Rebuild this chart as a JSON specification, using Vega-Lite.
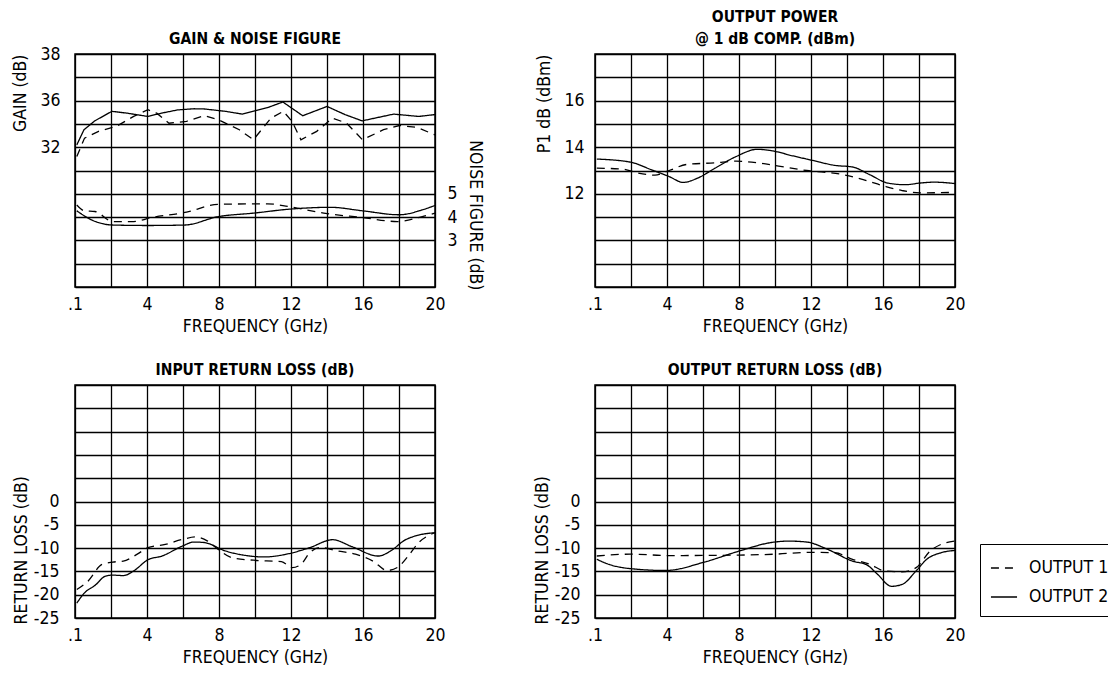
{
  "$schema": "https://vega.github.io/schema/vega-lite/v6.json",
  "background": "white",
  "padding": {"left": 11, "top": 8, "right": 0, "bottom": 5},
  "config": {
    "font": "DejaVu Sans Condensed, DejaVu Sans, sans-serif",
    "view": {"stroke": "black", "strokeWidth": 1.5},
    "axis": {"domain": false, "ticks": false, "tickSize": 0, "grid": true, "gridColor": "black", "gridWidth": 1.3, "gridOpacity": 1,
      "labelFont": "DejaVu Sans Condensed, DejaVu Sans, sans-serif", "labelFontSize": 17.5, "labelColor": "black",
      "titleFont": "DejaVu Sans Condensed, DejaVu Sans, sans-serif", "titleFontSize": 17.5, "titleFontWeight": "normal", "titleColor": "black",
      "labelOverlap": false, "labelFlush": false},
    "title": {"font": "DejaVu Sans Condensed, DejaVu Sans, sans-serif", "fontSize": 15.5, "fontWeight": "bold", "color": "black", "anchor": "middle", "frame": "group", "offset": -2, "lineHeight": 22},
    "line": {"color": "black", "strokeWidth": 1.3}
  },
  "datasets": {
    "gain": [
      {"f": 0.1, "out": "OUTPUT 2", "gain": 34.1}, {"f": 0.5, "out": "OUTPUT 2", "gain": 34.75}, {"f": 1.1, "out": "OUTPUT 2", "gain": 35.13},
      {"f": 2.05, "out": "OUTPUT 2", "gain": 35.54}, {"f": 2.9, "out": "OUTPUT 2", "gain": 35.46}, {"f": 4.05, "out": "OUTPUT 2", "gain": 35.32},
      {"f": 4.8, "out": "OUTPUT 2", "gain": 35.46}, {"f": 5.7, "out": "OUTPUT 2", "gain": 35.6}, {"f": 6.6, "out": "OUTPUT 2", "gain": 35.65},
      {"f": 7.2, "out": "OUTPUT 2", "gain": 35.64}, {"f": 8.35, "out": "OUTPUT 2", "gain": 35.54}, {"f": 9.3, "out": "OUTPUT 2", "gain": 35.42},
      {"f": 10.7, "out": "OUTPUT 2", "gain": 35.7}, {"f": 11.55, "out": "OUTPUT 2", "gain": 35.94}, {"f": 12.65, "out": "OUTPUT 2", "gain": 35.35},
      {"f": 14.0, "out": "OUTPUT 2", "gain": 35.75}, {"f": 15.0, "out": "OUTPUT 2", "gain": 35.4}, {"f": 15.95, "out": "OUTPUT 2", "gain": 35.13},
      {"f": 17.7, "out": "OUTPUT 2", "gain": 35.42}, {"f": 19.1, "out": "OUTPUT 2", "gain": 35.32}, {"f": 20, "out": "OUTPUT 2", "gain": 35.4},
      {"f": 0.1, "out": "OUTPUT 1", "gain": 33.6}, {"f": 0.53, "out": "OUTPUT 1", "gain": 34.39}, {"f": 1.31, "out": "OUTPUT 1", "gain": 34.68},
      {"f": 2.29, "out": "OUTPUT 1", "gain": 34.89}, {"f": 3.26, "out": "OUTPUT 1", "gain": 35.32}, {"f": 4.05, "out": "OUTPUT 1", "gain": 35.61},
      {"f": 4.54, "out": "OUTPUT 1", "gain": 35.46}, {"f": 5.22, "out": "OUTPUT 1", "gain": 35.03}, {"f": 6.2, "out": "OUTPUT 1", "gain": 35.11},
      {"f": 7.18, "out": "OUTPUT 1", "gain": 35.35}, {"f": 7.96, "out": "OUTPUT 1", "gain": 35.18}, {"f": 9.13, "out": "OUTPUT 1", "gain": 34.75},
      {"f": 9.91, "out": "OUTPUT 1", "gain": 34.32}, {"f": 10.89, "out": "OUTPUT 1", "gain": 35.25}, {"f": 11.57, "out": "OUTPUT 1", "gain": 35.54},
      {"f": 12.06, "out": "OUTPUT 1", "gain": 35.11}, {"f": 12.55, "out": "OUTPUT 1", "gain": 34.32}, {"f": 13.43, "out": "OUTPUT 1", "gain": 34.68},
      {"f": 14.31, "out": "OUTPUT 1", "gain": 35.25}, {"f": 15.09, "out": "OUTPUT 1", "gain": 35.03}, {"f": 15.97, "out": "OUTPUT 1", "gain": 34.32},
      {"f": 17.14, "out": "OUTPUT 1", "gain": 34.75}, {"f": 18.02, "out": "OUTPUT 1", "gain": 34.93}, {"f": 19.0, "out": "OUTPUT 1", "gain": 34.85},
      {"f": 20, "out": "OUTPUT 1", "gain": 34.53}
    ],
    "nf": [
      {"f": 0.1, "out": "OUTPUT 2", "nf": 4.27}, {"f": 0.92, "out": "OUTPUT 2", "nf": 3.88}, {"f": 2.09, "out": "OUTPUT 2", "nf": 3.66},
      {"f": 4.05, "out": "OUTPUT 2", "nf": 3.64}, {"f": 6.1, "out": "OUTPUT 2", "nf": 3.66}, {"f": 7.96, "out": "OUTPUT 2", "nf": 4.02},
      {"f": 9.91, "out": "OUTPUT 2", "nf": 4.17}, {"f": 12.06, "out": "OUTPUT 2", "nf": 4.35}, {"f": 14.21, "out": "OUTPUT 2", "nf": 4.42},
      {"f": 15.97, "out": "OUTPUT 2", "nf": 4.27}, {"f": 18.02, "out": "OUTPUT 2", "nf": 4.1}, {"f": 19.29, "out": "OUTPUT 2", "nf": 4.31},
      {"f": 20, "out": "OUTPUT 2", "nf": 4.5},
      {"f": 0.1, "out": "OUTPUT 1", "nf": 4.52}, {"f": 0.53, "out": "OUTPUT 1", "nf": 4.27}, {"f": 1.11, "out": "OUTPUT 1", "nf": 4.24},
      {"f": 2.09, "out": "OUTPUT 1", "nf": 3.81}, {"f": 3.26, "out": "OUTPUT 1", "nf": 3.81}, {"f": 4.24, "out": "OUTPUT 1", "nf": 3.98},
      {"f": 6.2, "out": "OUTPUT 1", "nf": 4.21}, {"f": 7.96, "out": "OUTPUT 1", "nf": 4.55}, {"f": 10.7, "out": "OUTPUT 1", "nf": 4.57},
      {"f": 11.87, "out": "OUTPUT 1", "nf": 4.45}, {"f": 13.82, "out": "OUTPUT 1", "nf": 4.17}, {"f": 15.97, "out": "OUTPUT 1", "nf": 3.98},
      {"f": 17.92, "out": "OUTPUT 1", "nf": 3.81}, {"f": 19.29, "out": "OUTPUT 1", "nf": 4.02}, {"f": 20, "out": "OUTPUT 1", "nf": 4.17}
    ],
    "p1db": [
      {"f": 0.1, "out": "OUTPUT 2", "p": 13.49}, {"f": 1.96, "out": "OUTPUT 2", "p": 13.36}, {"f": 3.14, "out": "OUTPUT 2", "p": 13.03},
      {"f": 4.12, "out": "OUTPUT 2", "p": 12.74}, {"f": 4.9, "out": "OUTPUT 2", "p": 12.49}, {"f": 5.69, "out": "OUTPUT 2", "p": 12.67},
      {"f": 6.67, "out": "OUTPUT 2", "p": 13.1}, {"f": 7.84, "out": "OUTPUT 2", "p": 13.6}, {"f": 9.02, "out": "OUTPUT 2", "p": 13.91},
      {"f": 9.8, "out": "OUTPUT 2", "p": 13.85}, {"f": 10.98, "out": "OUTPUT 2", "p": 13.63}, {"f": 12.16, "out": "OUTPUT 2", "p": 13.42},
      {"f": 13.33, "out": "OUTPUT 2", "p": 13.22}, {"f": 14.31, "out": "OUTPUT 2", "p": 13.15}, {"f": 15.29, "out": "OUTPUT 2", "p": 12.81},
      {"f": 16.27, "out": "OUTPUT 2", "p": 12.46}, {"f": 17.25, "out": "OUTPUT 2", "p": 12.39}, {"f": 18.04, "out": "OUTPUT 2", "p": 12.46},
      {"f": 18.82, "out": "OUTPUT 2", "p": 12.5}, {"f": 20, "out": "OUTPUT 2", "p": 12.44},
      {"f": 0.1, "out": "OUTPUT 1", "p": 13.1}, {"f": 1.57, "out": "OUTPUT 1", "p": 13.06}, {"f": 2.35, "out": "OUTPUT 1", "p": 12.9},
      {"f": 3.33, "out": "OUTPUT 1", "p": 12.8}, {"f": 4.12, "out": "OUTPUT 1", "p": 13.0}, {"f": 5.1, "out": "OUTPUT 1", "p": 13.26},
      {"f": 6.67, "out": "OUTPUT 1", "p": 13.33}, {"f": 7.84, "out": "OUTPUT 1", "p": 13.4}, {"f": 9.02, "out": "OUTPUT 1", "p": 13.33},
      {"f": 10.2, "out": "OUTPUT 1", "p": 13.19}, {"f": 11.76, "out": "OUTPUT 1", "p": 13.0}, {"f": 13.73, "out": "OUTPUT 1", "p": 12.83},
      {"f": 14.9, "out": "OUTPUT 1", "p": 12.61}, {"f": 16.08, "out": "OUTPUT 1", "p": 12.33}, {"f": 17.06, "out": "OUTPUT 1", "p": 12.14},
      {"f": 18.04, "out": "OUTPUT 1", "p": 12.04}, {"f": 20, "out": "OUTPUT 1", "p": 12.06}
    ],
    "irl": [
      {"f": 0.1, "out": "OUTPUT 2", "rl": -21.8}, {"f": 0.53, "out": "OUTPUT 2", "rl": -19.6}, {"f": 1.11, "out": "OUTPUT 2", "rl": -18.0},
      {"f": 1.7, "out": "OUTPUT 2", "rl": -16.0}, {"f": 2.09, "out": "OUTPUT 2", "rl": -15.8}, {"f": 2.68, "out": "OUTPUT 2", "rl": -15.9},
      {"f": 3.26, "out": "OUTPUT 2", "rl": -14.9}, {"f": 4.05, "out": "OUTPUT 2", "rl": -12.5}, {"f": 4.83, "out": "OUTPUT 2", "rl": -11.7},
      {"f": 6.0, "out": "OUTPUT 2", "rl": -9.5}, {"f": 6.59, "out": "OUTPUT 2", "rl": -8.7}, {"f": 7.17, "out": "OUTPUT 2", "rl": -8.8},
      {"f": 8.35, "out": "OUTPUT 2", "rl": -10.6}, {"f": 9.52, "out": "OUTPUT 2", "rl": -11.6}, {"f": 10.5, "out": "OUTPUT 2", "rl": -11.9},
      {"f": 11.87, "out": "OUTPUT 2", "rl": -11.2}, {"f": 13.04, "out": "OUTPUT 2", "rl": -9.9}, {"f": 14.31, "out": "OUTPUT 2", "rl": -8.2},
      {"f": 15.39, "out": "OUTPUT 2", "rl": -9.7}, {"f": 16.85, "out": "OUTPUT 2", "rl": -11.7}, {"f": 17.54, "out": "OUTPUT 2", "rl": -10.6},
      {"f": 18.32, "out": "OUTPUT 2", "rl": -8.3}, {"f": 19.1, "out": "OUTPUT 2", "rl": -7.2}, {"f": 20, "out": "OUTPUT 2", "rl": -6.7},
      {"f": 0.1, "out": "OUTPUT 1", "rl": -18.9}, {"f": 0.72, "out": "OUTPUT 1", "rl": -17.1}, {"f": 1.5, "out": "OUTPUT 1", "rl": -13.5},
      {"f": 2.09, "out": "OUTPUT 1", "rl": -13.0}, {"f": 2.68, "out": "OUTPUT 1", "rl": -12.8}, {"f": 3.46, "out": "OUTPUT 1", "rl": -11.3},
      {"f": 4.05, "out": "OUTPUT 1", "rl": -9.9}, {"f": 5.02, "out": "OUTPUT 1", "rl": -9.2}, {"f": 6.0, "out": "OUTPUT 1", "rl": -8.1},
      {"f": 6.69, "out": "OUTPUT 1", "rl": -7.6}, {"f": 7.37, "out": "OUTPUT 1", "rl": -8.5}, {"f": 7.96, "out": "OUTPUT 1", "rl": -10.3},
      {"f": 8.74, "out": "OUTPUT 1", "rl": -12.1}, {"f": 9.91, "out": "OUTPUT 1", "rl": -12.6}, {"f": 11.47, "out": "OUTPUT 1", "rl": -12.9},
      {"f": 12.06, "out": "OUTPUT 1", "rl": -14.2}, {"f": 12.55, "out": "OUTPUT 1", "rl": -13.5}, {"f": 13.04, "out": "OUTPUT 1", "rl": -11.0},
      {"f": 13.63, "out": "OUTPUT 1", "rl": -9.9}, {"f": 14.6, "out": "OUTPUT 1", "rl": -10.6}, {"f": 15.58, "out": "OUTPUT 1", "rl": -11.3},
      {"f": 16.56, "out": "OUTPUT 1", "rl": -12.8}, {"f": 17.34, "out": "OUTPUT 1", "rl": -14.8}, {"f": 17.93, "out": "OUTPUT 1", "rl": -14.1},
      {"f": 18.51, "out": "OUTPUT 1", "rl": -11.7}, {"f": 19.1, "out": "OUTPUT 1", "rl": -8.8}, {"f": 20, "out": "OUTPUT 1", "rl": -6.7}
    ],
    "orl": [
      {"f": 0.1, "out": "OUTPUT 2", "rl": -12.4}, {"f": 0.78, "out": "OUTPUT 2", "rl": -13.5}, {"f": 1.96, "out": "OUTPUT 2", "rl": -14.4},
      {"f": 3.92, "out": "OUTPUT 2", "rl": -14.8}, {"f": 6.08, "out": "OUTPUT 2", "rl": -13.0}, {"f": 8.04, "out": "OUTPUT 2", "rl": -10.6},
      {"f": 9.8, "out": "OUTPUT 2", "rl": -8.8}, {"f": 10.78, "out": "OUTPUT 2", "rl": -8.5}, {"f": 11.76, "out": "OUTPUT 2", "rl": -8.7},
      {"f": 12.94, "out": "OUTPUT 2", "rl": -10.3}, {"f": 14.31, "out": "OUTPUT 2", "rl": -12.8}, {"f": 15.1, "out": "OUTPUT 2", "rl": -13.6},
      {"f": 15.69, "out": "OUTPUT 2", "rl": -15.6}, {"f": 16.47, "out": "OUTPUT 2", "rl": -18.2}, {"f": 17.06, "out": "OUTPUT 2", "rl": -17.8},
      {"f": 17.84, "out": "OUTPUT 2", "rl": -14.9}, {"f": 18.43, "out": "OUTPUT 2", "rl": -12.4}, {"f": 19.22, "out": "OUTPUT 2", "rl": -11.0},
      {"f": 20, "out": "OUTPUT 2", "rl": -10.5},
      {"f": 0.1, "out": "OUTPUT 1", "rl": -11.7}, {"f": 1.96, "out": "OUTPUT 1", "rl": -11.3}, {"f": 4.12, "out": "OUTPUT 1", "rl": -11.6},
      {"f": 8.04, "out": "OUTPUT 1", "rl": -11.5}, {"f": 10.0, "out": "OUTPUT 1", "rl": -11.3}, {"f": 11.96, "out": "OUTPUT 1", "rl": -10.9},
      {"f": 13.33, "out": "OUTPUT 1", "rl": -11.0}, {"f": 14.31, "out": "OUTPUT 1", "rl": -12.4}, {"f": 15.29, "out": "OUTPUT 1", "rl": -13.5},
      {"f": 16.08, "out": "OUTPUT 1", "rl": -14.9}, {"f": 17.06, "out": "OUTPUT 1", "rl": -15.1}, {"f": 17.84, "out": "OUTPUT 1", "rl": -14.2},
      {"f": 18.63, "out": "OUTPUT 1", "rl": -10.6}, {"f": 19.22, "out": "OUTPUT 1", "rl": -9.2}, {"f": 20, "out": "OUTPUT 1", "rl": -8.5}
    ]
  },
  "columns": 2,
  "bounds": "flush",
  "spacing": {"row": 98, "column": 160},
  "resolve": {"scale": {"strokeDash": "independent"}, "legend": {"strokeDash": "independent"}},
  "concat": [
    {
      "title": {"text": "GAIN & NOISE FIGURE"},
      "width": 360, "height": 233,
      "layer": [
        {
          "data": {"name": "gain"},
          "mark": {"type": "line", "interpolate": "linear"},
          "encoding": {
            "x": {"field": "f", "type": "quantitative", "scale": {"domain": [0, 20], "nice": false, "zero": false},
              "axis": {"title": "FREQUENCY (GHz)", "values": [0, 2, 4, 6, 8, 10, 12, 14, 16, 18, 20], "labelExpr": "datum.value == 0 ? '.1' : (datum.value % 4 == 0 ? datum.label : '')", "labelPadding": 8, "titlePadding": 5}},
            "y": {"field": "gain", "type": "quantitative", "scale": {"domain": [28, 38], "nice": false, "zero": false},
              "axis": {"orient": "left", "title": "GAIN (dB)", "values": [28, 29, 30, 31, 32, 33, 34, 35, 36, 37, 38], "labelExpr": "datum.value == 38 ? '38' : datum.value == 36 ? '36' : datum.value == 34 ? '32' : ''", "titleAnchor": "end", "labelPadding": 15, "titlePadding": 10}},
            "strokeDash": {"field": "out", "type": "nominal", "scale": {"domain": ["OUTPUT 1", "OUTPUT 2"], "range": [[8, 6], [1, 0]]}, "legend": null}
          }
        },
        {
          "data": {"name": "nf"},
          "mark": {"type": "line", "interpolate": "monotone"},
          "encoding": {
            "x": {"field": "f", "type": "quantitative", "scale": {"domain": [0, 20], "nice": false, "zero": false},
              "axis": {"title": "FREQUENCY (GHz)", "values": [0, 2, 4, 6, 8, 10, 12, 14, 16, 18, 20], "labelExpr": "datum.value == 0 ? '.1' : (datum.value % 4 == 0 ? datum.label : '')", "labelPadding": 8, "titlePadding": 5}},
            "y": {"field": "nf", "type": "quantitative", "scale": {"domain": [1, 11], "nice": false, "zero": false},
              "axis": {"orient": "right", "title": "NOISE FIGURE (dB)", "values": [3, 4, 5], "grid": false, "titleY": 236, "titleAlign": "right", "titleAngle": 90, "labelPadding": 12, "titlePadding": 8}},
            "strokeDash": {"field": "out", "type": "nominal", "scale": {"domain": ["OUTPUT 1", "OUTPUT 2"], "range": [[8, 6], [1, 0]]}, "legend": null}
          }
        }
      ],
      "resolve": {"scale": {"y": "independent"}, "axis": {"y": "independent"}}
    },
    {
      "title": {"text": ["OUTPUT POWER", "@ 1 dB COMP. (dBm)"]},
      "width": 360, "height": 233,
      "data": {"name": "p1db"},
      "mark": {"type": "line", "interpolate": "monotone"},
      "encoding": {
        "x": {"field": "f", "type": "quantitative", "scale": {"domain": [0, 20], "nice": false, "zero": false},
          "axis": {"title": "FREQUENCY (GHz)", "values": [0, 2, 4, 6, 8, 10, 12, 14, 16, 18, 20], "labelExpr": "datum.value == 0 ? '.1' : (datum.value % 4 == 0 ? datum.label : '')", "labelPadding": 8, "titlePadding": 5}},
        "y": {"field": "p", "type": "quantitative", "scale": {"domain": [8, 18], "nice": false, "zero": false},
          "axis": {"title": "P1 dB (dBm)", "values": [8, 9, 10, 11, 12, 13, 14, 15, 16, 17, 18], "labelExpr": "datum.value == 12 || datum.value == 14 || datum.value == 16 ? datum.label : ''", "titleAnchor": "end", "labelPadding": 11, "titlePadding": 10}},
        "strokeDash": {"field": "out", "type": "nominal", "scale": {"domain": ["OUTPUT 1", "OUTPUT 2"], "range": [[8, 6], [1, 0]]}, "legend": null}
      }
    },
    {
      "title": {"text": "INPUT RETURN LOSS (dB)"},
      "width": 360, "height": 233,
      "data": {"name": "irl"},
      "mark": {"type": "line", "interpolate": "monotone"},
      "encoding": {
        "x": {"field": "f", "type": "quantitative", "scale": {"domain": [0, 20], "nice": false, "zero": false},
          "axis": {"title": "FREQUENCY (GHz)", "values": [0, 2, 4, 6, 8, 10, 12, 14, 16, 18, 20], "labelExpr": "datum.value == 0 ? '.1' : (datum.value % 4 == 0 ? datum.label : '')", "labelPadding": 8, "titlePadding": 5}},
        "y": {"field": "rl", "type": "quantitative", "scale": {"domain": [-25, 25], "nice": false, "zero": false},
          "axis": {"title": "RETURN LOSS (dB)", "values": [-25, -20, -15, -10, -5, 0, 5, 10, 15, 20, 25], "labelExpr": "datum.value < 0 ? '-' + abs(datum.value) : (datum.value == 0 ? '0' : '')", "titleY": 239, "titleAlign": "left", "titleAngle": -90, "labelPadding": 16, "titlePadding": 3}},
        "strokeDash": {"field": "out", "type": "nominal", "scale": {"domain": ["OUTPUT 1", "OUTPUT 2"], "range": [[8, 6], [1, 0]]}, "legend": null}
      }
    },
    {
      "title": {"text": "OUTPUT RETURN LOSS (dB)"},
      "width": 360, "height": 233,
      "data": {"name": "orl"},
      "mark": {"type": "line", "interpolate": "monotone"},
      "encoding": {
        "x": {"field": "f", "type": "quantitative", "scale": {"domain": [0, 20], "nice": false, "zero": false},
          "axis": {"title": "FREQUENCY (GHz)", "values": [0, 2, 4, 6, 8, 10, 12, 14, 16, 18, 20], "labelExpr": "datum.value == 0 ? '.1' : (datum.value % 4 == 0 ? datum.label : '')", "labelPadding": 8, "titlePadding": 5}},
        "y": {"field": "rl", "type": "quantitative", "scale": {"domain": [-25, 25], "nice": false, "zero": false},
          "axis": {"title": "RETURN LOSS (dB)", "values": [-25, -20, -15, -10, -5, 0, 5, 10, 15, 20, 25], "labelExpr": "datum.value < 0 ? '-' + abs(datum.value) : (datum.value == 0 ? '0' : '')", "titleY": 239, "titleAlign": "left", "titleAngle": -90, "labelPadding": 15, "titlePadding": 3}},
        "strokeDash": {"field": "out", "type": "nominal", "scale": {"domain": ["OUTPUT 1", "OUTPUT 2"], "range": [[8, 6], [1, 0]]},
          "legend": {"title": null, "orient": "none", "legendX": 385, "legendY": 159, "strokeColor": "black", "padding": 10, "symbolType": "stroke", "symbolStrokeColor": "black", "symbolStrokeWidth": 1.3, "symbolSize": 680, "labelFont": "DejaVu Sans Condensed, DejaVu Sans, sans-serif", "labelFontSize": 17.5, "labelColor": "black", "labelOffset": 11, "rowPadding": 6, "labelExpr": "datum.label + '      '"}}
      }
    }
  ]
}
